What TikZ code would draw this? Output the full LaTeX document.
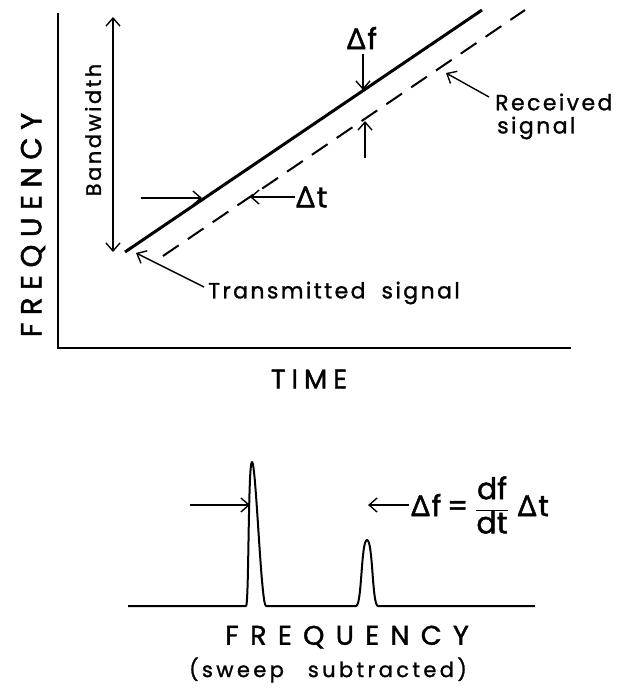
\documentclass[tikz,border=0pt]{standalone}
\usepackage{fontspec}
\setmainfont{Poppins}
\newfontfamily\gk{Noto Sans}[FakeBold=1.5]
\usetikzlibrary{arrows.meta}
\newcommand\Dl{{\gk Δ}\hspace{2pt}}
\begin{document}
\begin{tikzpicture}[x=1pt,y=-1pt,
  axis/.style={line width=2pt},
  sig/.style={line width=3pt},
  rsig/.style={line width=2pt, dash pattern=on 19pt off 11pt},
  ar/.style={line width=1.4pt,-{Straight Barb[length=8pt,width=14pt]}},
  dar/.style={line width=1.4pt,{Straight Barb[length=8pt,width=14pt]}-{Straight Barb[length=8pt,width=14pt]}},
  lbl/.style={font=\fontsize{22}{26}\selectfont\addfontfeatures{LetterSpace=11,FakeBold=1.2}, inner sep=0pt},
  big/.style={inner sep=0pt},
  sym/.style={font=\fontsize{29}{32}\selectfont\addfontfeatures{FakeBold=1.5}, inner sep=0pt}
]
\useasboundingbox (0,0) rectangle (616,693);
% axes
\coordinate (ytop) at (58,13);
\coordinate (o) at (58,348);
\coordinate (xend) at (571,348);
\draw[axis] (ytop) -- (o) -- (xend);
% signals
\coordinate (t0) at (125,252); \coordinate (t1) at (482,10);
\draw[sig] (t0) -- (t1);
\coordinate (r0) at (163,256); \coordinate (r1) at (525,10);
\draw[rsig] (r0) -- (r1);
% bandwidth
\coordinate (bwt) at (113,17); \coordinate (bwb) at (113,252);
\draw[dar] (bwt) -- (bwb);
\node[inner sep=0pt, rotate=90, font=\fontsize{21}{24}\selectfont\addfontfeatures{LetterSpace=12,FakeBold=1.2}] (bw) at (93,130) {Bandwidth};
% delta f
\node[sym] (df) at (362,38) {\Dl f};
\coordinate (dfa) at (363,54); \coordinate (dfb) at (363,90);
\draw[ar] (dfa) -- (dfb);
\coordinate (dfc) at (365,158); \coordinate (dfd) at (365,121);
\draw[ar] (dfc) -- (dfd);
% received
\coordinate (rca) at (489,97); \coordinate (rcb) at (446,73);
\draw[ar] (rca) -- (rcb);
\node[lbl, anchor=west] (rec) at (495,102) {Received};
\node[lbl, anchor=west] (recs) at (497,128) {signal};
% delta t
\coordinate (dta) at (141,198); \coordinate (dtb) at (202,198);
\draw[ar] (dta) -- (dtb);
\coordinate (dtc) at (295,197); \coordinate (dtd) at (250,197);
\draw[ar] (dtc) -- (dtd);
\node[sym, anchor=west] (dt) at (296,197) {\Dl t};
% transmitted
\coordinate (tra) at (204,287); \coordinate (trb) at (136,253);
\draw[ar] (tra) -- (trb);
\node[lbl, anchor=west] (tr) at (208,293) {Transmitted\hspace{16pt}signal};
% axis labels
\node[big, rotate=90, font=\fontsize{29}{32}\selectfont\addfontfeatures{LetterSpace=26,FakeBold=1.5}] (fq) at (33,225) {FREQUENCY};
\node[big, font=\fontsize{27}{30}\selectfont\addfontfeatures{LetterSpace=22,FakeBold=1.5}] (tm) at (309,379) {TIME};
% spectrum
\coordinate (b0) at (128,606); \coordinate (b1) at (535,606);
\draw[axis, line join=round] (b0) -- (246,606) .. controls (249,606) and (248,462) .. (252,462)
  .. controls (256,462) and (261,606) .. (266,606) -- (356,606)
  .. controls (362,606) and (361,540) .. (367,540)
  .. controls (373,540) and (372,606) .. (378,606) -- (b1);
\coordinate (pa) at (190,505); \coordinate (pb) at (250,505);
\draw[ar] (pa) -- (pb);
\coordinate (pc) at (409,505); \coordinate (pd) at (368,505);
\draw[ar] (pc) -- (pd);
\node[sym, anchor=west] (eq) at (411,505) {\Dl f\hspace{6pt}{=}\hspace{7pt}$\displaystyle\frac{\mbox{\fontsize{30}{32}\selectfont\addfontfeatures{FakeBold=1.5}df}}{\mbox{\fontsize{30}{32}\selectfont\addfontfeatures{FakeBold=1.5}dt}}$\hspace{9pt}\Dl t};
\node[big, font=\fontsize{27}{30}\selectfont\addfontfeatures{LetterSpace=42,FakeBold=1.5}] (fq2) at (347,637) {FREQUENCY};
\node[lbl, font=\fontsize{21}{26}\selectfont\addfontfeatures{LetterSpace=16,FakeBold=1.2}] (sw) at (328,670) {(sweep\hspace{24pt}subtracted)};
\end{tikzpicture}
\end{document}
